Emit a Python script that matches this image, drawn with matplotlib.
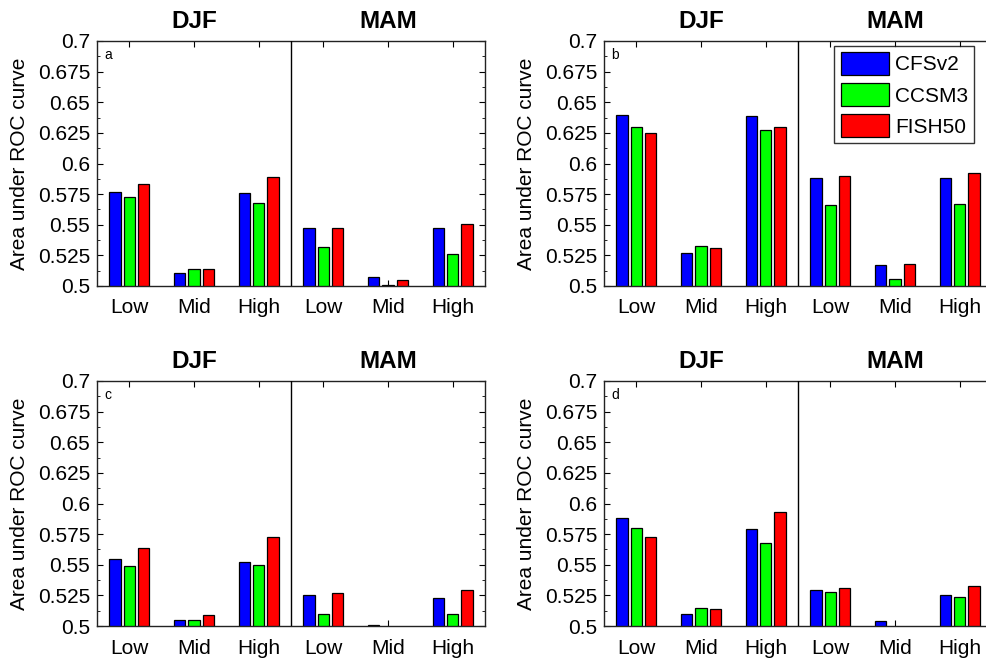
import numpy as np
import matplotlib.pyplot as plt

plt.rcParams['font.family'] = ['Liberation Sans', 'DejaVu Sans']

# categories / labels
groups = ['Low', 'Mid', 'High', 'Low', 'Mid', 'High']
seasons = ['DJF', 'MAM']
models = ['CFSv2', 'CCSM3', 'FISH50']
colors = ['#0000ff', '#00ff00', '#ff0000']
panel_ids = ['a', 'b', 'c', 'd']

# area under ROC curve (DJF Low,Mid,High, MAM Low,Mid,High)
a_cfs = [0.577, 0.511, 0.576, 0.547, 0.507, 0.547]
a_ccsm = [0.573, 0.514, 0.568, 0.532, 0.501, 0.526]
a_fish = [0.583, 0.514, 0.589, 0.547, 0.505, 0.551]

b_cfs = [0.640, 0.527, 0.639, 0.588, 0.517, 0.588]
b_ccsm = [0.630, 0.533, 0.627, 0.566, 0.506, 0.567]
b_fish = [0.625, 0.531, 0.630, 0.590, 0.518, 0.592]

c_cfs = [0.555, 0.505, 0.552, 0.525, 0.501, 0.523]
c_ccsm = [0.549, 0.505, 0.550, 0.510, 0.499, 0.510]
c_fish = [0.564, 0.509, 0.573, 0.527, 0.497, 0.529]

d_cfs = [0.588, 0.510, 0.579, 0.529, 0.504, 0.525]
d_ccsm = [0.580, 0.515, 0.568, 0.528, 0.498, 0.524]
d_fish = [0.573, 0.514, 0.593, 0.531, 0.496, 0.533]

data = [[a_cfs, a_ccsm, a_fish],
        [b_cfs, b_ccsm, b_fish],
        [c_cfs, c_ccsm, c_fish],
        [d_cfs, d_ccsm, d_fish]]

# axes positions in pixels (left, top) on a 987x662 canvas
W, H = 987., 662.
pos_px = [(97, 41), (604, 41), (97, 381), (604, 381)]
aw, ah = 388., 245.

fig = plt.figure(figsize=(9.87, 6.62), dpi=100)

x = np.arange(1, len(groups) + 1)
off = 0.22
bw = 0.175

for k in range(4):
    l, t = pos_px[k]
    ax = fig.add_axes([l / W, (H - t - ah) / H, aw / W, ah / H])
    for m in range(3):
        ax.bar(x + (m - 1) * off, data[k][m], width=bw, color=colors[m],
               edgecolor='k', linewidth=0.9, label=models[m], zorder=2)
    ax.axvline(3.5, color='k', linewidth=1, zorder=3)
    ax.set_xlim(0.5, 6.5)
    ax.set_ylim(0.5, 0.7)
    ax.set_xticks(x)
    ax.set_xticklabels(groups, fontsize=15)
    yt = np.arange(0.5, 0.7001, 0.025)
    ax.set_yticks(yt)
    ax.set_yticklabels(['%g' % v for v in np.round(yt, 3)], fontsize=15)
    ax.set_yticks(np.arange(0.5, 0.7001, 0.0125), minor=True)
    ax.tick_params(axis='both', which='both', direction='in', top=True, right=True)
    ax.tick_params(axis='both', which='major', length=4)
    ax.tick_params(axis='y', which='major', pad=5)
    ax.tick_params(axis='x', which='major', pad=9)
    ax.tick_params(axis='both', which='minor', length=2)
    ax.tick_params(axis='x', which='minor', bottom=False, top=False)
    for s in ax.spines.values():
        s.set_linewidth(1)
        s.set_color('#222222')
    ax.set_ylabel('Area under ROC curve', fontsize=15, labelpad=6)
    # season titles over each half
    ax.text(0.25, 1.053, seasons[0], transform=ax.transAxes, ha='center',
            va='baseline', fontsize=17.5, fontweight='bold')
    ax.text(0.75, 1.053, seasons[1], transform=ax.transAxes, ha='center',
            va='baseline', fontsize=17.5, fontweight='bold')
    ax.text(0.018, 0.97, panel_ids[k], transform=ax.transAxes, ha='left',
            va='top', fontsize=10)
    if k == 1:
        leg = ax.legend(loc='upper right', bbox_to_anchor=(0.954, 0.98),
                        borderaxespad=0, fontsize=15, fancybox=False,
                        handlelength=2.3, handleheight=1.3, handletextpad=0.3,
                        labelspacing=0.4, borderpad=0.3)
        leg.get_frame().set_edgecolor('k')
        leg.get_frame().set_linewidth(1)

fig.savefig('out.png', dpi=100)
